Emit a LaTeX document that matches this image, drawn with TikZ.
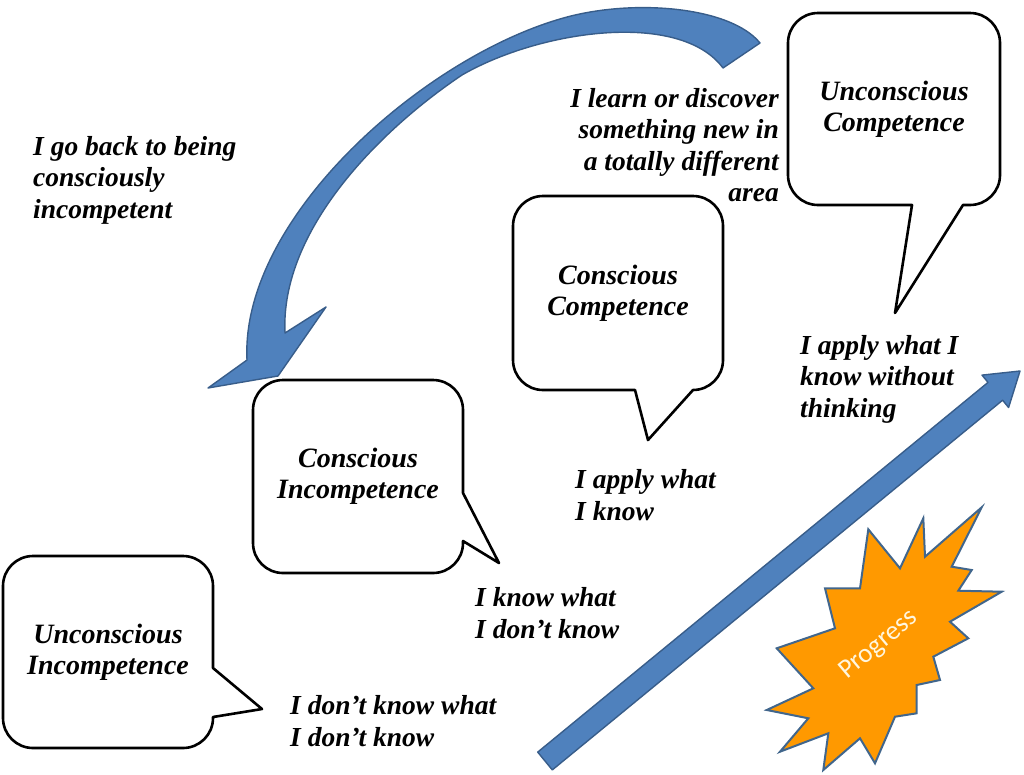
\documentclass[tikz,border=0pt]{standalone}
\usepackage{fontspec}
\setmainfont{Liberation Serif}
\newfontfamily\progfont{Carlito}
\usepackage{tikz}
\usetikzlibrary{positioning,calc}

\definecolor{arrowblue}{RGB}{79,129,189}
\definecolor{arrowedge}{RGB}{56,93,138}
\definecolor{burstorange}{RGB}{255,153,0}
\definecolor{burstedge}{RGB}{65,102,140}
\definecolor{progtext}{RGB}{255,246,222}
\newcommand\handfont{\fontsize{27.5}{31.5}\selectfont\bfseries\itshape}
\newcommand\bubblefont{\fontsize{28}{31}\selectfont\bfseries\itshape}

\begin{document}
\begin{tikzpicture}[x=1pt,y=-1pt,
    bubble/.style={draw, line width=2.6pt, fill=white, line join=round},
    label/.style={align=center, inner sep=0pt, font=\bubblefont},
    note/.style={inner sep=0pt, font=\handfont},
    bluearrow/.style={fill=arrowblue, draw=arrowedge, line width=1.4pt, line join=round},
    burst/.style={fill=burstorange, draw=burstedge, line width=2pt, line join=miter}]
    \useasboundingbox (0,0) rectangle (1024,774);

    % Speech bubbles (box with tail)
    \filldraw[bubble] (33,556) -- (183,556) arc[start angle=270, end angle=360, radius=30]
        -- (213,668) -- (262,709) -- (213,717) -- (213,718) arc[start angle=0, end angle=90, radius=30]
        -- (33,748) arc[start angle=90, end angle=180, radius=30]
        -- (3,586) arc[start angle=180, end angle=270, radius=30] -- cycle;
    \filldraw[bubble] (283,380) -- (433,380) arc[start angle=270, end angle=360, radius=30]
        -- (463,493) -- (499,563) -- (463,541) -- (463,543) arc[start angle=0, end angle=90, radius=30]
        -- (283,573) arc[start angle=90, end angle=180, radius=30]
        -- (253,410) arc[start angle=180, end angle=270, radius=30] -- cycle;
    \filldraw[bubble] (543,196) -- (693,196) arc[start angle=270, end angle=360, radius=30]
        -- (723,360) arc[start angle=0, end angle=90, radius=30]
        -- (648,440) -- (635,390) -- (543,390) arc[start angle=90, end angle=180, radius=30]
        -- (513,226) arc[start angle=180, end angle=270, radius=30] -- cycle;
    \filldraw[bubble] (818,13) -- (970,13) arc[start angle=270, end angle=360, radius=30]
        -- (1000,175) arc[start angle=0, end angle=90, radius=30]
        -- (963,205) -- (895,313) -- (912,205)
        -- (818,205) arc[start angle=90, end angle=180, radius=30]
        -- (788,43) arc[start angle=180, end angle=270, radius=30] -- cycle;

    \node[label] (ui) at (108,652) {Unconscious\\Incompetence};
    \node[label] (ci) at (358,476.5) {Conscious\\Incompetence};
    \node[label] (cc) at (618,293) {Conscious\\Competence};
    \node[label] (uc) at (894,109) {Unconscious\\Competence};

    % Notes beside the bubbles
    \node[note, anchor=west, align=left] (back) at (33,180) {I go back to being\\consciously\\incompetent};
    \node[note, anchor=east, align=right] (learn) at (779,145) {I learn or discover\\something new in\\a totally different\\area};
    \node[note, anchor=west, align=left] (applyuc) at (800,379) {I apply what I\\know without\\thinking};
    \node[note, anchor=west, align=left] (applycc) at (575,495) {I apply what\\I know};
    \node[note, anchor=west, align=left] (knowci) at (475,613) {I know what\\I don't know};
    \node[note, anchor=west, align=left] (dontui) at (290,721) {I don't know what\\I don't know};

    % Curved arrow back
    \filldraw[bluearrow] (760,43) .. controls (730,6) and (630,-2) .. (560,19)
        .. controls (420,60) and (240,220) .. (247,360)
        -- (208,388) -- (278,376) -- (326,307) -- (285,333)
        .. controls (280,230) and (380,130) .. (462,75)
        .. controls (540,30) and (680,10) .. (723,68) -- cycle;

    % Progress arrow
    \filldraw[bluearrow] (552.3,769.9) -- (537.7,752.1) -- (988,382.4) -- (982,375.1) -- (1020,371)
        -- (1008.6,407.5) -- (1002.6,400.2) -- cycle;

    % Burst
    \filldraw[burst] (981.7,507.3) -- (951.7,566.7) -- (971.7,570) -- (958.3,590.7) -- (1001.7,591.7)
        -- (950,621.7) -- (968.3,638.3) -- (933.3,656.7) -- (940,680) -- (916.7,685)
        -- (916.7,713.3) -- (895,716.7) -- (875,763.3) -- (860,738.3) -- (823.3,770)
        -- (828.3,733.3) -- (780,751.7) -- (808.3,718.3) -- (766.7,710) -- (813.3,688.3)
        -- (776.7,648.3) -- (835,628.3) -- (825,588.3) -- (860,588.3) -- (868.3,529.3)
        -- (900,568.3) -- (923.3,518.3) -- (925,556.7) -- cycle;
    \node[rotate=40, font=\progfont\fontsize{27}{30}\selectfont, text=progtext] (prog) at (879,645) {Progress};

\end{tikzpicture}
\end{document}
